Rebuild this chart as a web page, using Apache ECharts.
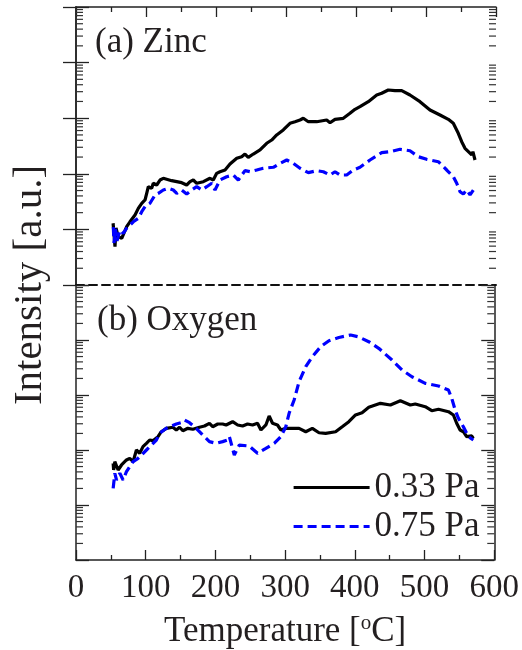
<!DOCTYPE html>
<html><head><meta charset="utf-8">
<script src="https://cdn.jsdelivr.net/npm/echarts@6/dist/echarts.min.js"></script>
<style>html,body{margin:0;padding:0;background:#fff}#c{width:522px;height:650px}</style>
</head><body><div id="c"></div>
<script>
// ---- data (temperature °C, intensity a.u., log scale) ----
const seriesNames = ['0.33 Pa', '0.75 Pa'];
const panelLabels = ['(a) Zinc', '(b) Oxygen'];
const xTickLabels = ['0','100','200','300','400','500','600'];
const yAxisTitle = 'Intensity [a.u.]';

const zinc033 = [[53,12.9],[55.7,4.9],[57.1,10.6],[60.4,7.4],[65.3,6.9],[72.4,11.2],[77.1,13.7],[84.3,18.2],[89,23.9],[93.9,29.5],[98.6,33.8],[101,44.6],[103.3,58.6],[105.7,62.9],[108.1,54.8],[110.4,67.5],[115.3,62.9],[120,77.3],[124.7,83],[136.7,75.2],[151,69.2],[158.1,62.9],[162.9,72.1],[167.6,77.3],[172.4,67.5],[181.9,72.1],[191.4,83],[196.1,77.3],[201,102],[205.7,109],[212.9,117],[220,150],[229.6,190],[236.7,203],[241.4,227],[246.1,198],[253.3,227],[262.9,268],[272.4,354],[279.6,405],[286.7,499],[296.1,614],[305.7,809],[312.9,865],[320,929],[324.7,996],[331.9,865],[343.9,865],[358.1,929],[362.9,830],[370,955],[381.9,996],[391.4,1225],[398.6,1445],[405.7,1610],[417.6,1980],[429.6,2610],[436.7,2805],[446.1,3215],[455.7,3125],[465.3,3125],[477.1,2610],[491.4,1980],[505.7,1405],[520,1142],[531.9,955],[539,809],[546.1,535],[551,378],[555.7,288],[562,240],[565.3,218],[567,250],[570,177]];

const zinc075 = [[53.3,11.0],[54.3,5.7],[56.4,10.2],[58.6,6.2],[62.9,9.75],[67.6,8.5],[72.4,10.5],[81.9,13.7],[89,15.8],[93.9,20.8],[98.6,25.6],[105.7,29.5],[112.9,41.6],[117.6,44.6],[124.7,51.1],[131.9,54.8],[139,51.1],[143.9,44.6],[151,51.1],[158.1,43.3],[165.3,51.1],[172.4,58.6],[179.6,51.1],[186.7,58.6],[193.9,67.5],[198.6,51.1],[205.7,77.3],[215.3,88.7],[224.7,95.1],[231.9,77.3],[241.4,114],[248.6,109],[258.1,117],[267.6,126],[281.9,131],[291.4,154],[301,177],[310.4,154],[320,126],[331.9,105],[343.9,114],[353.3,109],[362.9,95.1],[370,109],[377.1,95.1],[386.7,95.1],[396.1,117],[405.7,131],[420,177],[436.7,240],[448.6,250],[462.9,276],[477.1,260],[489,203],[501,182],[517.6,165],[529.6,117],[539,88.7],[543.9,67.5],[548.6,47.6],[553.3,43.3],[558.1,51.1],[562.9,41.6],[567.6,51.1]];

const oxy033 = [[53.3,57.3],[54,43.3],[55.7,61.3],[60.4,43.3],[65.3,53.4],[72.4,65.8],[77.1,70.6],[81.9,61.3],[86.7,100],[91.4,87.1],[96.1,115],[101,132],[105.7,152],[110.4,148],[117.6,175],[122.4,215],[129.6,248],[139,259],[143.9,231],[148.6,259],[153.3,224],[160.4,248],[167.6,238],[177.1,259],[184.3,273],[191.4,306],[196.1,265],[203.3,297],[210.4,297],[215.3,285],[224.7,327],[231.9,285],[239,273],[246.1,297],[253.3,285],[260.4,306],[265.3,231],[272.4,285],[277.1,415],[281.9,306],[289,285],[293.9,231],[301,248],[310.4,248],[320,248],[329.6,215],[339,248],[348.6,206],[358.1,201],[372.4,215],[381.9,265],[391.4,327],[401,433],[410.4,477],[420,597],[436.7,706],[451,658],[465.3,787],[479.6,658],[486.7,686],[501,612],[510.4,518],[520,550],[534.3,497],[541.4,433],[546.1,306],[551,231],[555.7,215],[560.4,175],[567.6,180],[570,163]];

const oxy075 = [[53.3,20.1],[55.7,37.7],[58.1,28.5],[62.9,37.7],[67.6,28.5],[72.4,40.3],[77.1,49.7],[81.9,61.3],[89,70.6],[93.9,81.1],[101,100],[108.1,123],[115.3,152],[120,201],[129.6,248],[136.7,273],[143.9,297],[151,314],[155.7,351],[162.9,314],[172.4,248],[181.9,187],[191.4,142],[201,132],[210.4,142],[217.6,152],[220,175],[227.1,81.1],[234.3,123],[248.6,118],[260.4,87.1],[272.4,107],[284.3,132],[293.9,175],[301,265],[305.7,465],[312.9,811],[320,1745],[329.6,3270],[339,4970],[351,7550],[362.9,9710],[377.1,11100],[393.9,12330],[405.7,11350],[420,9310],[434.3,7060],[453.3,4330],[467.6,2850],[481.9,2150],[501,1630],[520,1458],[534.3,1233],[539,871],[543.9,534],[548.6,377],[555.7,265],[562.9,175],[570,152]];

// ---- chart ----
const FONT = '"Liberation Serif", "Times New Roman", serif';
const TXT = '#231f20';
const minorVals = [];
for (let d = 0; d < 5; d++) for (let k = 2; k <= 9; k++) minorVals.push([0, k * Math.pow(10, d)]);

function minorTickItem(params, api) {
  const v = api.value(1);
  const l = api.coord([0, v]);
  const r = api.coord([600, v]);
  const st = {stroke: '#333', lineWidth: 1.2};
  return {type: 'group', children: [
    {type: 'line', shape: {x1: l[0], y1: l[1], x2: l[0] + 7, y2: l[1]}, style: st},
    {type: 'line', shape: {x1: r[0] - 7, y1: r[1], x2: r[0], y2: r[1]}, style: st}
  ]};
}

const axisLineSolid = {show: true, lineStyle: {color: '#222', width: 1.5}};
function xAx(grid, pos, opts) {
  return Object.assign({
    type: 'value', gridIndex: grid, position: pos, min: 0, max: 600, interval: 100,
    axisLine: axisLineSolid,
    axisTick: {show: true, inside: true, length: 10, lineStyle: {color: '#222', width: 1.3}},
    minorTick: {show: true, splitNumber: 2, length: 5, lineStyle: {color: '#222', width: 1.3}},
    axisLabel: {show: false}, splitLine: {show: false}
  }, opts || {});
}
function yAx(grid, pos) {
  return {
    type: 'log', logBase: 10, gridIndex: grid, position: pos, min: 1, max: 100000,
    axisLine: axisLineSolid,
    axisTick: {show: true, inside: true, length: 13, lineStyle: {color: '#222', width: 1.3}},
    axisLabel: {show: false}, splitLine: {show: false}
  };
}

const lineBlack = {color: '#000', width: 3.2};
const lineBlue = {color: '#0000ff', width: 3.2, type: [9, 5]};

const option = {
  animation: false,
  backgroundColor: '#fff',
  textStyle: {fontFamily: FONT},
  grid: [
    {left: 76, top: 7, width: 420, height: 278},
    {left: 76, top: 285, width: 420, height: 275}
  ],
  xAxis: [
    xAx(0, 'top'),
    xAx(0, 'bottom', {axisLine: {show: true, lineStyle: {color: '#111', width: 2, type: [8, 5]}}, axisTick: {show: false}, minorTick: {show: false}}),
    xAx(1, 'bottom', {
      axisLabel: {show: true, margin: 12, color: TXT, fontSize: 33, fontFamily: FONT,
        formatter: function (v) { return xTickLabels[Math.round(v / 100)]; }},
      name: 'Temperature [{sup|o}C]', nameLocation: 'middle', nameGap: 53,
      nameTextStyle: {color: TXT, fontSize: 35, fontFamily: FONT,
        rich: {sup: {fontSize: 21, fontFamily: FONT, color: TXT, verticalAlign: 'top', padding: [0, 0, 16, 0]}}}
    })
  ],
  yAxis: [yAx(0, 'left'), yAx(0, 'right'), yAx(1, 'left'), yAx(1, 'right')],
  legend: {
    data: seriesNames, orient: 'vertical', left: 287, top: 465, itemWidth: 76, itemHeight: 14, itemGap: 4,
    itemStyle: {opacity: 0}, lineStyle: {width: 3.2},
    textStyle: {color: TXT, fontSize: 35, fontFamily: FONT}, selectedMode: false
  },
  graphic: [
    {type: 'text', left: 95, top: 25, style: {text: panelLabels[0], fill: TXT, font: '35px ' + FONT}},
    {type: 'text', left: 97, top: 303, style: {text: panelLabels[1], fill: TXT, font: '35px ' + FONT}},
    {type: 'text', x: 30, y: 285, rotation: Math.PI / 2,
      style: {text: yAxisTitle, fill: TXT, font: '41px ' + FONT, textAlign: 'center', textVerticalAlign: 'middle'}}
  ],
  series: [
    {type: 'custom', xAxisIndex: 0, yAxisIndex: 0, renderItem: minorTickItem, data: minorVals, silent: true, clip: false},
    {type: 'custom', xAxisIndex: 2, yAxisIndex: 2, renderItem: minorTickItem, data: minorVals, silent: true, clip: false},
    {name: seriesNames[0], type: 'line', xAxisIndex: 0, yAxisIndex: 0, data: zinc033, symbol: 'none', lineStyle: lineBlack, itemStyle: {color: '#000'}, z: 3},
    {name: seriesNames[1], type: 'line', xAxisIndex: 0, yAxisIndex: 0, data: zinc075, symbol: 'none', lineStyle: lineBlue, itemStyle: {color: '#0000ff'}, z: 4},
    {name: seriesNames[0], type: 'line', xAxisIndex: 2, yAxisIndex: 2, data: oxy033, symbol: 'none', lineStyle: lineBlack, itemStyle: {color: '#000'}, z: 3},
    {name: seriesNames[1], type: 'line', xAxisIndex: 2, yAxisIndex: 2, data: oxy075, symbol: 'none', lineStyle: lineBlue, itemStyle: {color: '#0000ff'}, z: 4}
  ]
};
const chart = echarts.init(document.getElementById('c'), null, {renderer: 'canvas'});
chart.setOption(option);
</script>
</body></html>
